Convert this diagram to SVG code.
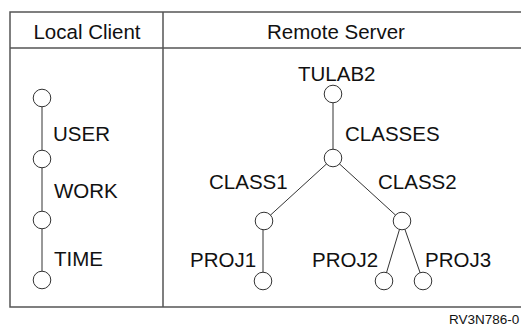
<svg xmlns="http://www.w3.org/2000/svg" width="521" height="327" viewBox="0 0 521 327">
<style>
.frame{stroke:#555;stroke-width:1.5;fill:none}
.edge{stroke:#333;stroke-width:1;fill:none}
.node{fill:#fff;stroke:#333;stroke-width:1}
.lbl{font-family:"Liberation Sans",Arial,sans-serif;font-size:20.5px;fill:#111}
.hdr{font-family:"Liberation Sans",Arial,sans-serif;font-size:20.5px;fill:#111;text-anchor:middle}
.foot{font-family:"Liberation Sans",Arial,sans-serif;font-size:13.5px;fill:#111}
</style>
<rect width="521" height="327" fill="#fff"/>
<g id="frame">
<path class="frame" d="M530,12 H10 V307 H530 M10,48 H530 M163,12 V307"/>
<text class="hdr" x="87" y="39">Local Client</text>
<text class="hdr" x="336" y="39">Remote Server</text>
</g>
<g id="connectors">
<line class="edge" x1="42" y1="98" x2="42" y2="280"/>
<line class="edge" x1="333" y1="94" x2="333" y2="158"/>
<line class="edge" x1="333" y1="158" x2="264" y2="221"/>
<line class="edge" x1="333" y1="158" x2="402" y2="221"/>
<line class="edge" x1="263" y1="221" x2="263" y2="281"/>
<line class="edge" x1="402" y1="221" x2="384" y2="281"/>
<line class="edge" x1="402" y1="221" x2="423" y2="281"/>
</g>
<g id="local-root"><circle class="node" cx="42" cy="98" r="8.8"/></g>
<g id="user"><circle class="node" cx="42" cy="159" r="8.8"/><text class="lbl" x="53" y="141">USER</text></g>
<g id="work"><circle class="node" cx="42" cy="220" r="8.8"/><text class="lbl" x="54" y="198">WORK</text></g>
<g id="time"><circle class="node" cx="42" cy="280" r="8.8"/><text class="lbl" x="54" y="266">TIME</text></g>
<g id="tulab2"><circle class="node" cx="333" cy="94" r="8.8"/><text class="lbl" x="298" y="81">TULAB2</text></g>
<g id="classes"><circle class="node" cx="333" cy="158" r="8.8"/><text class="lbl" x="345" y="141">CLASSES</text></g>
<g id="class1"><circle class="node" cx="264" cy="221" r="8.8"/><text class="lbl" x="209" y="189">CLASS1</text></g>
<g id="class2"><circle class="node" cx="402" cy="221" r="8.8"/><text class="lbl" x="378" y="189">CLASS2</text></g>
<g id="proj1"><circle class="node" cx="263" cy="281" r="8.8"/><text class="lbl" x="190" y="267">PROJ1</text></g>
<g id="proj2"><circle class="node" cx="384" cy="281" r="8.8"/><text class="lbl" x="312" y="267">PROJ2</text></g>
<g id="proj3"><circle class="node" cx="423" cy="281" r="8.8"/><text class="lbl" x="425" y="267">PROJ3</text></g>
<text class="foot" x="449" y="324">RV3N786-0</text>
</svg>
